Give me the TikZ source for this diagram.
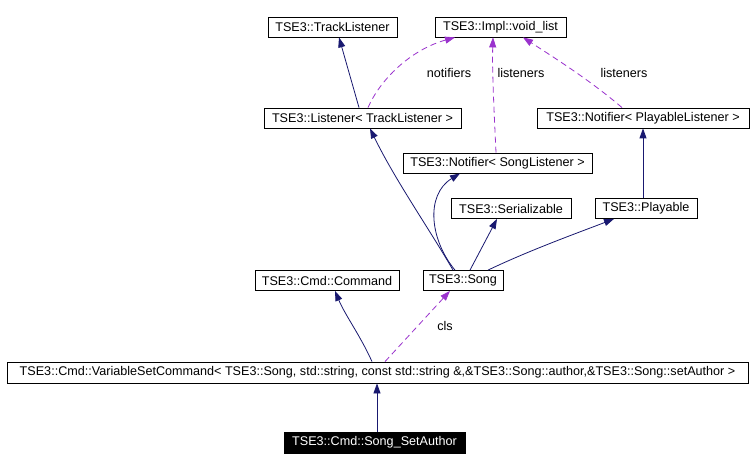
\documentclass[tikz,border=0pt]{standalone}
\usepackage{fontspec}
\setmainfont{Liberation Sans}
\usetikzlibrary{arrows.meta}
\definecolor{navyedge}{HTML}{191970}
\definecolor{purpedge}{HTML}{9A32CD}
\begin{document}
\begin{tikzpicture}[x=1pt,y=-1pt,
  box/.style={draw=black,line width=0.8pt,fill=white,inner sep=0pt,minimum height=20pt,font=\fontsize{12.6}{14}\selectfont},
  hbox/.style={box,fill=black,text=white},
  inh/.style={draw=navyedge,line width=0.8pt,-{Triangle[length=10pt,width=7pt]}},
  use/.style={draw=purpedge,line width=0.8pt,dash pattern=on 6pt off 4pt,-{Triangle[length=10pt,width=7pt]}},
  lbl/.style={inner sep=0pt,font=\fontsize{12.6}{14}\selectfont}]
\useasboundingbox[fill=white] (0,0) rectangle (754,470);
\node[box,minimum width=129pt] (track) at (332.5,27) {TSE3::TrackListener};
\node[box,minimum width=131pt] (void) at (500.5,27) {TSE3::Impl::void\_list};
\node[box,minimum width=197pt] (listener) at (362.5,118) {TSE3::Listener< TrackListener >};
\node[box,minimum width=212pt] (notplay) at (643,118) {TSE3::Notifier< PlayableListener >};
\node[box,minimum width=189pt] (notsong) at (497.5,163) {TSE3::Notifier< SongListener >};
\node[box,minimum width=120pt] (serial) at (511,208.5) {TSE3::Serializable};
\node[box,minimum width=102pt] (playable) at (646,208.5) {TSE3::Playable};
\node[box,minimum width=144pt] (command) at (327,280.5) {TSE3::Cmd::Command};
\node[box,minimum width=80pt] (song) at (463,280.5) {TSE3::Song};
\node[box,minimum width=741pt,minimum height=21pt] (vsc) at (377.5,372.5) {TSE3::Cmd::VariableSetCommand< TSE3::Song, std::string, const std::string \&,\&TSE3::Song::author,\&TSE3::Song::setAuthor >};
\node[hbox,minimum width=181pt,minimum height=21pt] (setauthor) at (374.5,442.5) {TSE3::Cmd::Song\_SetAuthor};
% inheritance edges
\draw[inh] ([xshift=-3.5pt]listener.north) -- ([xshift=6.5pt]track.south);
\draw[inh] ([xshift=-3pt]playable.north) -- ([xshift=0pt]notplay.south);
\draw[inh] ([xshift=-10pt]song.north) .. controls (430,230) and (395,180) .. ([xshift=7.5pt]listener.south);
\draw[inh] ([xshift=-8pt]song.north) .. controls (430,240) and (425,195) .. ([xshift=-37.5pt]notsong.south);
\draw[inh] ([xshift=7pt]song.north) -- ([xshift=-14pt]serial.south);
\draw[inh] ([xshift=25pt]song.north) .. controls (530,250) and (580,232) .. ([xshift=-32pt]playable.south);
\draw[inh] ([xshift=-5.5pt]vsc.north) .. controls (360,335) and (345,315) .. ([xshift=8pt]command.south);
\draw[inh] ([xshift=2.5pt]setauthor.north) -- ([xshift=-0.5pt]vsc.south);
% usage edges
\draw[use] ([xshift=5.5pt]listener.north) .. controls (380,80) and (410,50) .. ([xshift=-45.5pt]void.south);
\draw[use] ([xshift=-1.5pt]notsong.north) .. controls (494,110) and (492,70) .. ([xshift=-7.5pt]void.south);
\draw[use] ([xshift=-21pt]notplay.north) .. controls (590,80) and (550,55) .. ([xshift=22.5pt]void.south);
\draw[use] ([xshift=7.5pt]vsc.north) -- ([xshift=-13pt]song.south);
% labels
\node[lbl] (lnotif) at (449,73) {notifiers};
\node[lbl] (llist1) at (521,73) {listeners};
\node[lbl] (llist2) at (624,73) {listeners};
\node[lbl] (lcls) at (445,326) {cls};
\end{tikzpicture}
\end{document}
